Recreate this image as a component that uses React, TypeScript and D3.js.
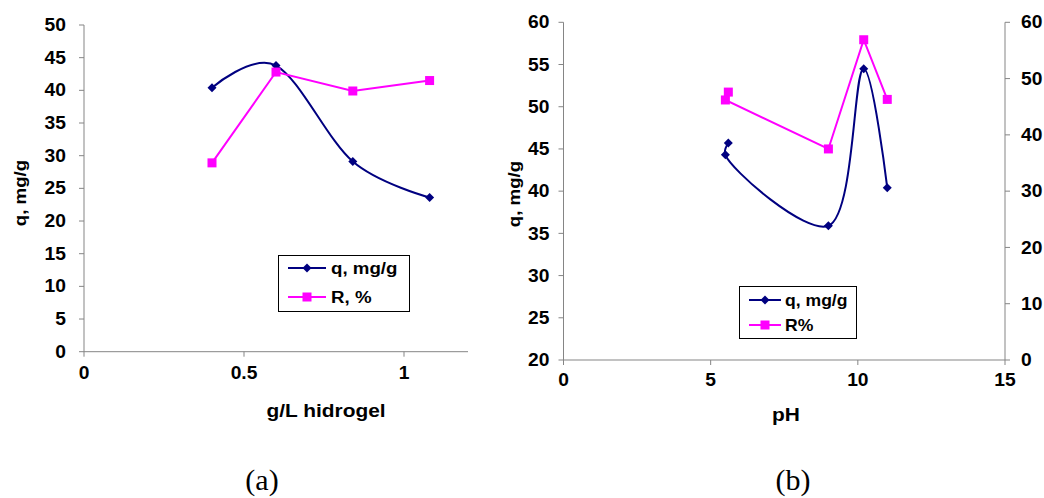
import React from "react";
import * as d3 from "d3";

// Panel (a)
const doseX = [0.4, 0.6, 0.84, 1.08];
const doseQ = [40.4, 43.8, 29.1, 23.6];
const doseR = [28.9, 42.8, 39.9, 41.5];
const aYTicks = [0, 5, 10, 15, 20, 25, 30, 35, 40, 45, 50];
const aXTicks = [0, 0.5, 1];

// Panel (b)
const phX = [5.6, 5.5, 9, 10.2, 11];
const phQ = [45.7, 44.3, 35.9, 54.5, 40.4];
const phR = [47.6, 46.2, 37.5, 56.9, 46.3];
const bYTicks = [20, 25, 30, 35, 40, 45, 50, 55, 60];
const bY2Ticks = [0, 10, 20, 30, 40, 50, 60];
const bXTicks = [0, 5, 10, 15];

const NAVY = "#000080";
const MAG = "#FF00FF";
const AX = "#858585";
const FONT = "'Liberation Sans', Arial, sans-serif";
const SX = 1.1;

function Diamond({ x, y }: { x: number; y: number }) {
  const s = 4.5;
  return <path d={`M${x},${y - s}L${x + s},${y}L${x},${y + s}L${x - s},${y}Z`} fill={NAVY} />;
}
function Square({ x, y }: { x: number; y: number }) {
  const s = 4.5;
  return <rect x={x - s} y={y - s} width={2 * s} height={2 * s} fill={MAG} />;
}

function T({
  x, y, size, anchor = "start", rot = 0, mid = false, children,
}: { x: number; y: number; size: number; anchor?: string; rot?: number; mid?: boolean; children: React.ReactNode }) {
  return (
    <text
      transform={`translate(${x},${y}) rotate(${rot}) scale(${SX},1)`}
      textAnchor={anchor as any}
      dy={mid ? "0.35em" : undefined}
      style={{ fontFamily: FONT, fontWeight: 700, fontSize: size, fill: "#000" }}
    >
      {children}
    </text>
  );
}

export default function App() {
  // panel a scales
  const ax = d3.scaleLinear().domain([0, 1.2]).range([84, 468]);
  const ay = d3.scaleLinear().domain([0, 50]).range([351.7, 25]);
  // panel b scales
  const bx = d3.scaleLinear().domain([0, 15]).range([563.5, 1005]);
  const by = d3.scaleLinear().domain([20, 60]).range([360, 22.3]);
  const by2 = d3.scaleLinear().domain([0, 60]).range([360, 22.3]);

  const smoothA = d3.line<[number, number]>().curve(d3.curveCardinal.tension(0));
  const smoothB = d3.line<[number, number]>().curve(d3.curveCatmullRom.alpha(0.5));
  const straight = d3.line<[number, number]>();

  const aQ = doseX.map((x, i) => [ax(x), ay(doseQ[i])] as [number, number]);
  const aR = doseX.map((x, i) => [ax(x), ay(doseR[i])] as [number, number]);
  const bQ = phX.map((x, i) => [bx(x), by(phQ[i])] as [number, number]);
  const bR = phX.map((x, i) => [bx(x), by2(phR[i])] as [number, number]);

  const TICK = 17.5;
  const serif = { fontFamily: "'Liberation Serif', 'Times New Roman', serif", fontSize: 30 };

  return (
    <svg width={1044} height={498} style={{ position: "absolute", left: 0, top: 0, background: "#fff" }}>
      <rect x={0} y={0} width={1044} height={498} fill="#fff" />
      {/* ---------- Panel a ---------- */}
      <line x1={ax(0)} x2={ax(0)} y1={ay(0)} y2={ay(50)} stroke={AX} strokeWidth={1} />
      <line x1={ax(0)} x2={ax(1.2)} y1={ay(0)} y2={ay(0)} stroke={AX} strokeWidth={1} />
      {aYTicks.map((t) => (
        <g key={"ay" + t}>
          <line x1={ax(0) - 5} x2={ax(0)} y1={ay(t)} y2={ay(t)} stroke={AX} />
          <T x={ax(0) - 18} y={ay(t)} size={TICK} anchor="end" mid>{t}</T>
        </g>
      ))}
      {aXTicks.map((t) => (
        <g key={"ax" + t}>
          <line x1={ax(t)} x2={ax(t)} y1={ay(0)} y2={ay(0) + 5} stroke={AX} />
          <T x={ax(t)} y={ay(0) + 21} size={TICK} anchor="middle" mid>{t}</T>
        </g>
      ))}
      <T x={326} y={417} size={19} anchor="middle">g/L hidrogel</T>
      <T x={26} y={193} size={17} anchor="middle" rot={-90}>q, mg/g</T>
      <path d={smoothA(aQ) || ""} fill="none" stroke={NAVY} strokeWidth={2} />
      <path d={straight(aR) || ""} fill="none" stroke={MAG} strokeWidth={2} />
      {aQ.map(([x, y], i) => <Diamond key={"aqd" + i} x={x} y={y} />)}
      {aR.map(([x, y], i) => <Square key={"ars" + i} x={x} y={y} />)}
      {/* legend a */}
      <rect x={278.5} y={255.5} width={131} height={56} fill="#fff" stroke="#000" strokeWidth={1} />
      <line x1={288} x2={326} y1={268} y2={268} stroke={NAVY} strokeWidth={2} />
      <Diamond x={307} y={268} />
      <T x={331} y={268} size={17} mid>q, mg/g</T>
      <line x1={288} x2={326} y1={297} y2={297} stroke={MAG} strokeWidth={2} />
      <Square x={307} y={297} />
      <T x={331} y={297} size={17} mid>R, %</T>
      <text x={262} y={490} textAnchor="middle" style={serif}>(a)</text>

      {/* ---------- Panel b ---------- */}
      <line x1={bx(0)} x2={bx(0)} y1={by(20)} y2={by(60)} stroke={AX} />
      <line x1={bx(0)} x2={bx(15)} y1={by(20)} y2={by(20)} stroke={AX} />
      <line x1={bx(15)} x2={bx(15)} y1={by2(0)} y2={by2(60)} stroke={AX} />
      {bYTicks.map((t) => (
        <g key={"by" + t}>
          <line x1={bx(0) - 5} x2={bx(0)} y1={by(t)} y2={by(t)} stroke={AX} />
          <T x={bx(0) - 14} y={by(t)} size={TICK} anchor="end" mid>{t}</T>
        </g>
      ))}
      {bY2Ticks.map((t) => (
        <g key={"by2" + t}>
          <line x1={bx(15)} x2={bx(15) + 5} y1={by2(t)} y2={by2(t)} stroke={AX} />
          <T x={bx(15) + 16} y={by2(t)} size={TICK} mid>{t}</T>
        </g>
      ))}
      {bXTicks.map((t) => (
        <g key={"bx" + t}>
          <line x1={bx(t)} x2={bx(t)} y1={by(20)} y2={by(20) + 5} stroke={AX} />
          <T x={bx(t)} y={by(20) + 20} size={TICK} anchor="middle" mid>{t}</T>
        </g>
      ))}
      <T x={786} y={421} size={19} anchor="middle">pH</T>
      <T x={520} y={194} size={17} anchor="middle" rot={-90}>q, mg/g</T>
      <path d={smoothB(bQ) || ""} fill="none" stroke={NAVY} strokeWidth={2} />
      <path d={straight(bR) || ""} fill="none" stroke={MAG} strokeWidth={2} />
      {bQ.map(([x, y], i) => <Diamond key={"bqd" + i} x={x} y={y} />)}
      {bR.map(([x, y], i) => <Square key={"brs" + i} x={x} y={y} />)}
      {/* legend b */}
      <rect x={739.5} y={286.5} width={117} height={52} fill="#fff" stroke="#000" strokeWidth={1} />
      <line x1={749} x2={781} y1={300} y2={300} stroke={NAVY} strokeWidth={2} />
      <Diamond x={765} y={300} />
      <T x={785} y={300} size={16} mid>q, mg/g</T>
      <line x1={749} x2={781} y1={325} y2={325} stroke={MAG} strokeWidth={2} />
      <Square x={765} y={325} />
      <T x={785} y={325} size={16} mid>R%</T>
      <text x={793} y={490} textAnchor="middle" style={serif}>(b)</text>
    </svg>
  );
}
